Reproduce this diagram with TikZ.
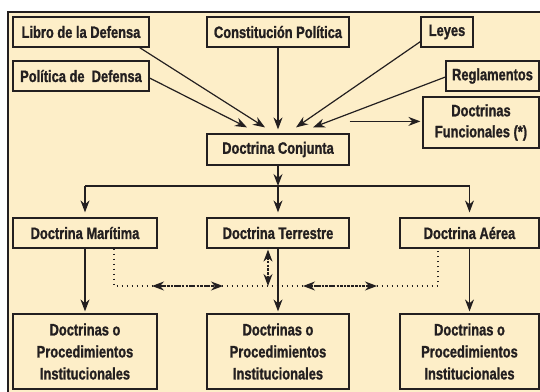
\documentclass[tikz,border=0pt]{standalone}
\usepackage{fontspec}
\setmainfont{Liberation Sans}[FakeStretch=0.78, BoldFeatures={FakeBold=1.2}]
\usetikzlibrary{positioning, arrows.meta}
\definecolor{fondocol}{RGB}{253,238,200}
\definecolor{lineacol}{RGB}{35,31,32}

\begin{document}
\begin{tikzpicture}[
			x=1pt, y=-1pt,
			on grid,
			font=\fontsize{16.5}{22}\selectfont\bfseries,
			caja/.style={
				draw=lineacol,
				line width=1.2pt,
				text=lineacol,
				minimum height=30pt,
				inner sep=0pt,
				align=center
			},
			flecha/.style={
				draw=lineacol,
				line width=1.2pt,
				-{Stealth[length=12pt,width=9pt]}
			},
			punteado/.style={
				draw=lineacol,
				line width=1.4pt,
				dash pattern=on 1.3pt off 3.7pt
			},
			rayado/.style={
				draw=lineacol,
				line width=1.1pt,
				dash pattern=on 2.5pt off 1.2pt,
				{Stealth[length=12pt,width=9pt]}-{Stealth[length=12pt,width=9pt]}
			}
			]
			\useasboundingbox (0,0) rectangle (540,391);
			% Fondo
			\fill[fondocol] (8,12) rectangle (541,392);
			\draw[lineacol, line width=1.2pt] (8,392) -- (8,12) -- (541,12);
			
			% Fuentes
			\node[caja, minimum width=142pt, minimum height=31pt] (conj) at (278,149.5) {Doctrina Conjunta};
			\node[caja, minimum width=142pt] (const) [above=117.5pt of conj] {Constitución Política};
			\node[caja, minimum width=136pt] (libro) [left=197pt of const] {Libro de la Defensa};
			\node[caja, minimum width=136pt] (pol) [below=44pt of libro] {Política de~ Defensa};
			\node[caja, minimum width=52pt] (leyes) [right=169pt of const] {Leyes};
			\node[caja, minimum width=93pt] (regl) at (492.5,76) {Reglamentos};
			\node[caja, minimum width=116pt, minimum height=51pt] (func) at (481,122.5) {Doctrinas\\[-1pt]Funcionales (*)};
			
			% Doctrinas
			\node[caja, minimum width=142pt] (ter) [below=83.5pt of conj] {Doctrina Terrestre};
			\node[caja, minimum width=144pt] (mar) [left=193pt of ter] {Doctrina Marítima};
			\node[caja, minimum width=139pt] (aer) [right=191.5pt of ter] {Doctrina Aérea};
			\node[caja, minimum width=144pt, minimum height=75pt] (mar2) [below=118.5pt of mar] {Doctrinas o\\Procedimientos\\Institucionales};
			\node[caja, minimum width=142pt, minimum height=75pt] (ter2) [below=118.5pt of ter] {Doctrinas o\\Procedimientos\\Institucionales};
			\node[caja, minimum width=139pt, minimum height=75pt] (aer2) [below=118.5pt of aer] {Doctrinas o\\Procedimientos\\Institucionales};
			
			\coordinate (bus) at (278,186);
			\coordinate (pl) at (114,286);
			\coordinate (pr) at (438,286);
			\coordinate (fs) at ([yshift=12pt]conj.north east);
			
			% Flechas
			\draw[flecha] ([xshift=-10pt]libro.south east) -- ([xshift=-13pt, yshift=6pt]conj.north);
			\draw[flecha] ([yshift=-2pt]pol.east) -- ([xshift=-31pt, yshift=6pt]conj.north);
			\draw[flecha] (const) -- ([yshift=4pt]conj.north);
			\draw[flecha] ([yshift=6pt]leyes.south west) -- ([xshift=18pt, yshift=6pt]conj.north);
			\draw[flecha] ([yshift=-1pt]regl.west) -- ([xshift=35pt, yshift=6pt]conj.north);
			\draw[flecha, shorten >=2pt] (fs) -- (func.west |- fs);
			\draw[flecha] (conj) -- (bus);
			\draw[lineacol, line width=1.2pt] (mar |- bus) -- (aer |- bus);
			\draw[flecha] (mar |- bus) -- ([yshift=5pt]mar.north);
			\draw[flecha] (bus) -- ([yshift=5pt]ter.north);
			\draw[flecha] (aer |- bus) -- ([yshift=5pt]aer.north);
			\draw[flecha] (mar) -- ([yshift=2pt]mar2.north);
			\draw[flecha] (ter) -- ([yshift=2pt]ter2.north);
			\draw[flecha] (aer) -- ([yshift=2pt]aer2.north);
			
			% Coordinacion
			\draw[punteado] (mar.south -| pl) -- (pl) -- (pr) -- (aer.south -| pr);
			\draw[rayado] (152,286) -- (223,286);
			\draw[rayado] (303,286) -- (377,286);
			\draw[rayado] ([xshift=-10pt, yshift=-1pt]ter.south) -- ([xshift=-10pt]ter.south |- pl);
		\end{tikzpicture}
\end{document}
